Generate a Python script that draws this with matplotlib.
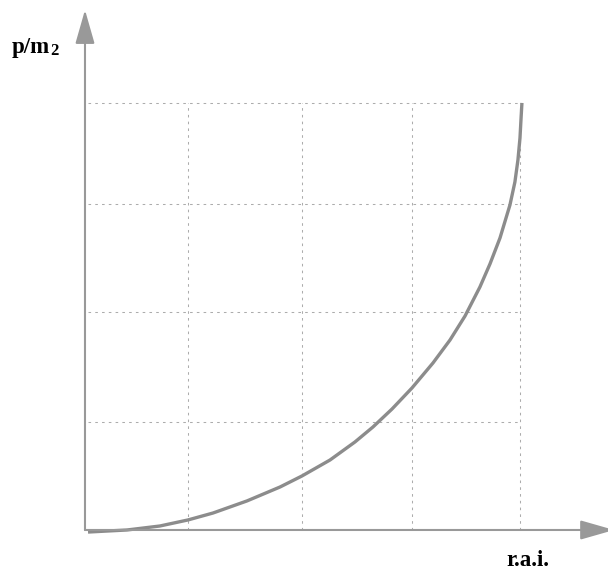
import matplotlib.pyplot as plt

# --- data ---
grid_x = [0.954, 2.009, 3.028, 4.028]
grid_y = [1.00, 2.02, 3.02, 3.95]

curve_x = [0.028, 0.389, 0.694, 0.954, 1.185, 1.500, 1.806, 2.009, 2.269,
           2.500, 2.667, 2.843, 3.028, 3.222, 3.380, 3.519, 3.657, 3.750,
           3.843, 3.935, 3.981, 4.009, 4.028, 4.037, 4.046]
curve_y = [-0.019, 0.000, 0.037, 0.093, 0.157, 0.269, 0.398, 0.500, 0.648,
           0.815, 0.954, 1.120, 1.315, 1.546, 1.759, 1.981, 2.250, 2.463,
           2.704, 3.009, 3.222, 3.426, 3.630, 3.796, 3.954]

x_label = 'r.a.i.'
y_label = 'p/m'
y_label_sub = '2'

axis_col = '#999999'
grid_col = '#acacac'
curve_col = '#8c8c8c'

fig = plt.figure(figsize=(6.08, 5.72), dpi=100)
ax = fig.add_axes([0, 0, 1, 1])
ax.set_xlim(-0.787, 4.843)
ax.set_ylim(-0.389, 4.907)
ax.axis('off')

# --- dotted grid ---
for gx in grid_x:
    ax.plot([gx, gx], [0, grid_y[-1]], color=grid_col, lw=0.75,
            ls=(0, (2.5, 4.0)))
for gy in grid_y:
    ax.plot([0.03, grid_x[-1]], [gy, gy], color=grid_col, lw=0.75,
            ls=(0, (2.5, 4.0)))

# --- axes with arrow heads ---
arrow = dict(arrowstyle='-|>,head_length=2.1,head_width=0.6',
             color=axis_col, lw=1.5, shrinkA=0, shrinkB=0)
ax.annotate('', xy=(4.90, 0), xytext=(0, 0), arrowprops=arrow,
            annotation_clip=False)
ax.annotate('', xy=(0, 4.815), xytext=(0, 0), arrowprops=arrow,
            annotation_clip=False)

# --- curve ---
ax.plot(curve_x, curve_y, color=curve_col, lw=2.4,
        solid_capstyle='butt', solid_joinstyle='round')

# --- labels ---
serif = dict(family='Liberation Serif', weight='bold', va='baseline', ha='left')
ax.text(-0.676, 4.417, y_label, fontsize=16.5, **serif)
ax.text(-0.320, 4.395, y_label_sub, fontsize=12, **serif)
ax.text(3.898, -0.333, x_label, fontsize=16.5, **serif)

fig.savefig('out.png', dpi=100)
